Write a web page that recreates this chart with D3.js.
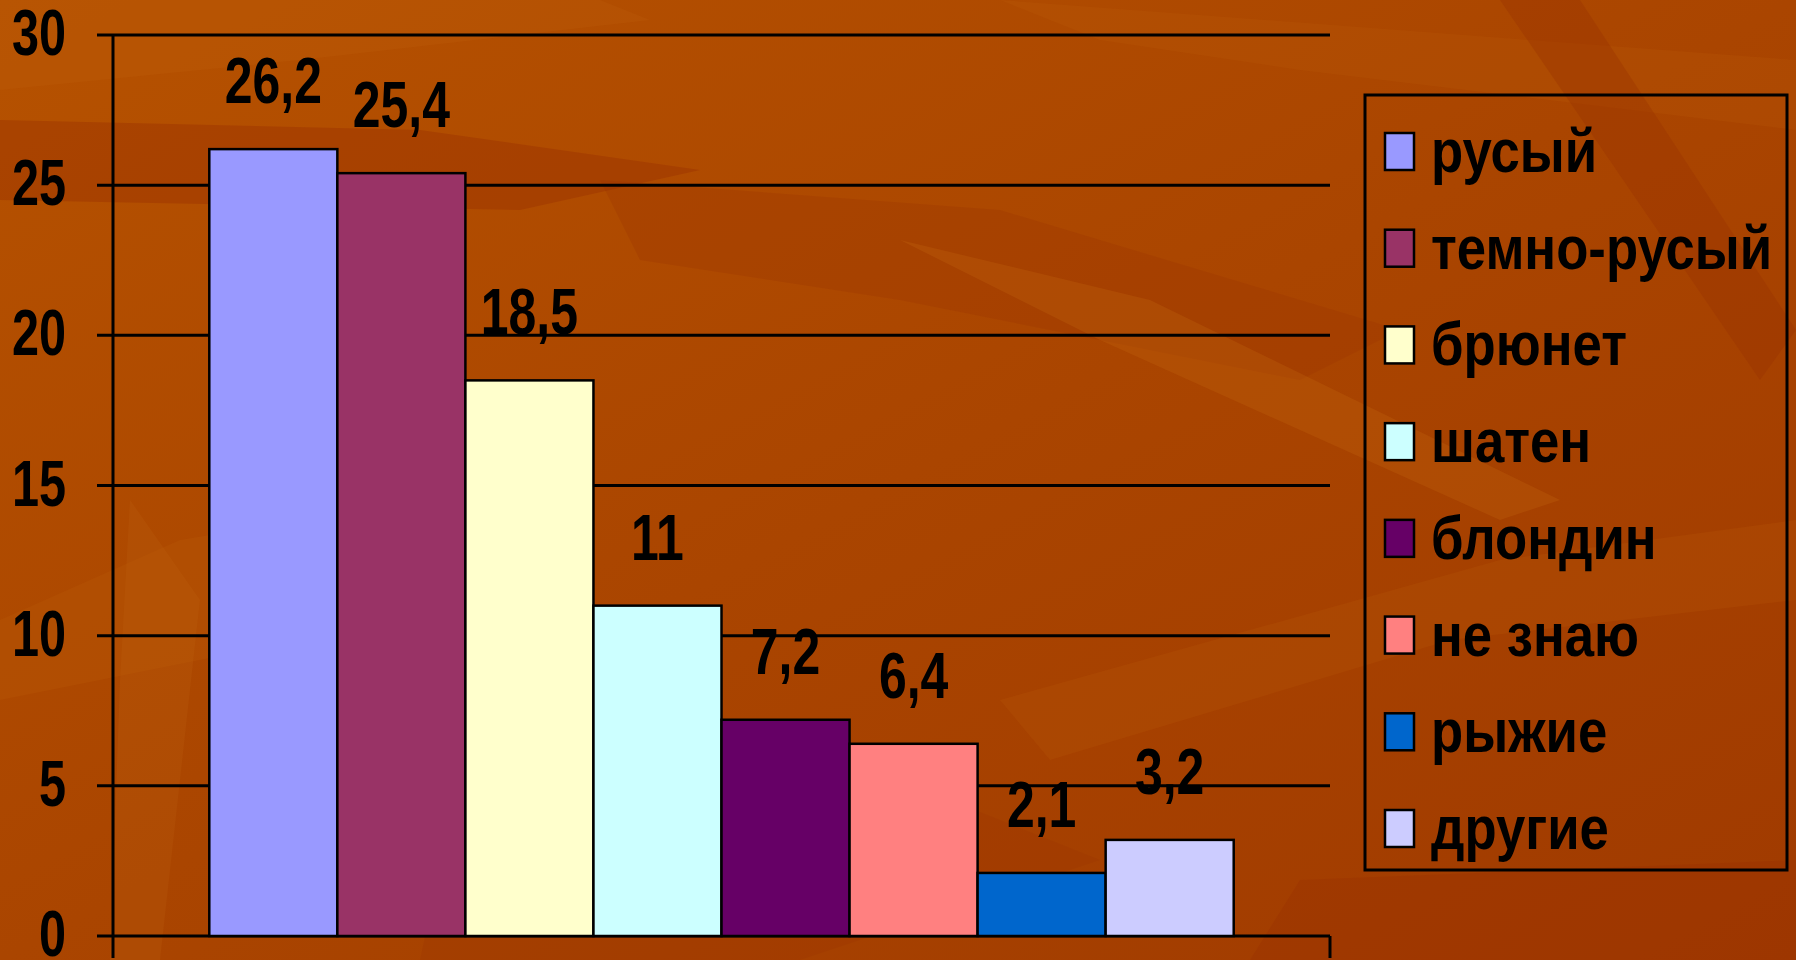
<!DOCTYPE html>
<html>
<head>
<meta charset="utf-8">
<script src="https://cdn.jsdelivr.net/npm/d3@7"></script>
<style>
  html, body { margin: 0; padding: 0; background: #a94400; }
  svg { display: block; }
  text { font-family: "Liberation Sans", Arial, sans-serif; font-weight: bold; fill: #000; }
</style>
</head>
<body>
<div id="chart"></div>
<script>
// Data
const categories = ["русый", "темно-русый", "брюнет", "шатен", "блондин", "не знаю", "рыжие", "другие"];
const values = [26.2, 25.4, 18.5, 11, 7.2, 6.4, 2.1, 3.2];
const colors = ["#9999ff", "#993366", "#ffffcc", "#ccffff", "#660066", "#ff8080", "#0066cc", "#ccccff"];
const yTicks = [0, 5, 10, 15, 20, 25, 30];

const W = 1796, H = 960;
const plot = {left: 113, right: 1330, top: 35, bottom: 936};

const svg = d3.select("#chart").append("svg")
    .attr("width", W)
    .attr("height", H);

// Background: orange gradient with some faint texture shapes
const defs = svg.append("defs");
const grad = defs.append("linearGradient")
    .attr("id", "bg").attr("x1", 0).attr("y1", 0).attr("x2", 1).attr("y2", 1);
grad.append("stop").attr("offset", "0%").attr("stop-color", "#b65200");
grad.append("stop").attr("offset", "50%").attr("stop-color", "#aa4500");
grad.append("stop").attr("offset", "100%").attr("stop-color", "#a03a00");
svg.append("rect").attr("width", W).attr("height", H).attr("fill", "url(#bg)");

const texture = [
    {d: "M0,90 L300,60 L650,20 L600,0 L0,0 Z", c: "#c0600a", o: 0.25},
    {d: "M0,120 L420,130 L700,170 L520,210 L0,200 Z", c: "#983000", o: 0.4},
    {d: "M600,180 L1000,210 L1400,330 L1300,380 L900,300 L640,260 Z", c: "#9a3400", o: 0.3},
    {d: "M1000,0 L1796,60 L1796,130 L1300,70 L1100,40 Z", c: "#c0600a", o: 0.2},
    {d: "M900,240 L1150,300 L1560,500 L1500,520 L1100,340 Z", c: "#c86a10", o: 0.25},
    {d: "M0,620 L180,540 L420,500 L560,560 L300,640 L0,700 Z", c: "#c0600a", o: 0.22},
    {d: "M130,500 L200,600 L160,960 L110,960 L120,680 Z", c: "#c06410", o: 0.22},
    {d: "M1000,700 L1500,560 L1796,520 L1796,600 L1450,640 L1050,760 Z", c: "#c0600a", o: 0.2},
    {d: "M1500,0 L1580,0 L1796,330 L1760,380 Z", c: "#983000", o: 0.35},
    {d: "M1300,880 L1796,860 L1796,960 L1250,960 Z", c: "#983000", o: 0.3},
    {d: "M450,820 L900,780 L1100,860 L800,960 L420,960 Z", c: "#9a3400", o: 0.3}
];
svg.append("g").selectAll("path")
    .data(texture)
    .join("path")
    .attr("d", d => d.d)
    .attr("fill", d => d.c)
    .attr("opacity", d => d.o);

// Scales
const y = d3.scaleLinear().domain([0, 30]).range([plot.bottom, plot.top]);
const x0 = d3.scaleBand().domain(["all"]).range([plot.left, plot.right]).paddingOuter(0.094);
const x1 = d3.scaleBand().domain(categories).range([0, x0.bandwidth()]);

// Gridlines (drawn under the bars)
svg.append("g").selectAll("line")
    .data(yTicks)
    .join("line")
    .attr("x1", plot.left - 16)
    .attr("x2", plot.right)
    .attr("y1", d => y(d))
    .attr("y2", d => y(d))
    .attr("stroke", "#000")
    .attr("stroke-width", 3);

// Y axis line and category ticks
svg.append("line")
    .attr("x1", plot.left).attr("x2", plot.left)
    .attr("y1", y(30)).attr("y2", plot.bottom + 22)
    .attr("stroke", "#000").attr("stroke-width", 3);
svg.append("line")
    .attr("x1", plot.right).attr("x2", plot.right)
    .attr("y1", plot.bottom).attr("y2", plot.bottom + 22)
    .attr("stroke", "#000").attr("stroke-width", 3);

// Y tick labels (condensed bold)
svg.append("g").selectAll("g")
    .data(yTicks)
    .join("g")
    .attr("transform", d => `translate(66,${y(d) + 20}) scale(0.76,1)`)
    .append("text")
    .attr("text-anchor", "end")
    .attr("font-size", 64)
    .text(d => d);

// Bars
const bars = svg.append("g").attr("transform", `translate(${x0("all")},0)`);
bars.selectAll("rect")
    .data(values)
    .join("rect")
    .attr("x", (d, i) => x1(categories[i]))
    .attr("width", x1.bandwidth())
    .attr("y", d => y(d))
    .attr("height", d => y(0) - y(d))
    .attr("fill", (d, i) => colors[i])
    .attr("stroke", "#000")
    .attr("stroke-width", 2.5);

// Value labels
const fmt = v => String(v).replace(".", ",");
bars.selectAll("g.val")
    .data(values)
    .join("g")
    .attr("class", "val")
    .attr("transform", (d, i) => `translate(${x1(categories[i]) + x1.bandwidth() / 2},${y(d) - 46}) scale(0.78,1)`)
    .append("text")
    .attr("text-anchor", "middle")
    .attr("font-size", 64)
    .text(d => fmt(d));

// Legend
const legend = svg.append("g").attr("transform", "translate(1365,95)");
legend.append("rect")
    .attr("width", 422).attr("height", 775)
    .attr("fill", "none").attr("stroke", "#000").attr("stroke-width", 3);
const rowY = d3.scalePoint().domain(categories).range([56, 733]);
const item = legend.selectAll("g.item")
    .data(categories)
    .join("g")
    .attr("class", "item")
    .attr("transform", d => `translate(0,${rowY(d)})`);
item.append("rect")
    .attr("x", 20).attr("y", -18)
    .attr("width", 29).attr("height", 37)
    .attr("fill", (d, i) => colors[i])
    .attr("stroke", "#000").attr("stroke-width", 2.5);
item.append("g")
    .attr("transform", "translate(66,21) scale(0.85,1)")
    .append("text")
    .attr("font-size", 62)
    .text(d => d);
</script>
</body>
</html>
